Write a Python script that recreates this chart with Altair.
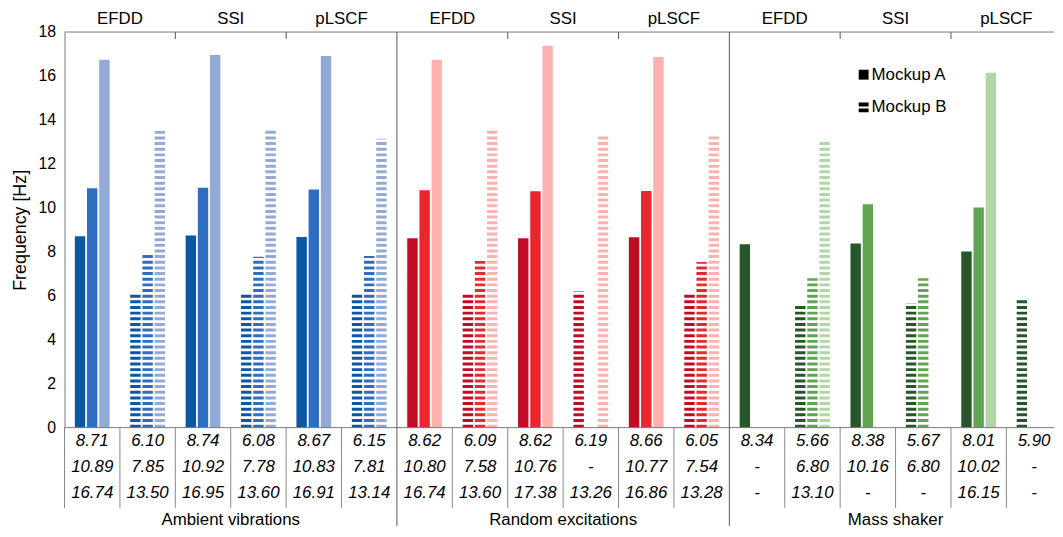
import altair as alt
import pandas as pd

# ---------------- data ----------------
groups = ["Ambient vibrations", "Random excitations", "Mass shaker"]
methods = ["EFDD", "SSI", "pLSCF"]
mockups = ["Mockup A", "Mockup B"]

# three modes per mockup (None = not identified)
ambient_efdd_a = [8.71, 10.89, 16.74]
ambient_efdd_b = [6.10, 7.85, 13.50]
ambient_ssi_a = [8.74, 10.92, 16.95]
ambient_ssi_b = [6.08, 7.78, 13.60]
ambient_plscf_a = [8.67, 10.83, 16.91]
ambient_plscf_b = [6.15, 7.81, 13.14]

random_efdd_a = [8.62, 10.80, 16.74]
random_efdd_b = [6.09, 7.58, 13.60]
random_ssi_a = [8.62, 10.76, 17.38]
random_ssi_b = [6.19, None, 13.26]
random_plscf_a = [8.66, 10.77, 16.86]
random_plscf_b = [6.05, 7.54, 13.28]

shaker_efdd_a = [8.34, None, None]
shaker_efdd_b = [5.66, 6.80, 13.10]
shaker_ssi_a = [8.38, 10.16, None]
shaker_ssi_b = [5.67, 6.80, None]
shaker_plscf_a = [8.01, 10.02, 16.15]
shaker_plscf_b = [5.90, None, None]

table = [
    [[ambient_efdd_a, ambient_efdd_b], [ambient_ssi_a, ambient_ssi_b], [ambient_plscf_a, ambient_plscf_b]],
    [[random_efdd_a, random_efdd_b], [random_ssi_a, random_ssi_b], [random_plscf_a, random_plscf_b]],
    [[shaker_efdd_a, shaker_efdd_b], [shaker_ssi_a, shaker_ssi_b], [shaker_plscf_a, shaker_plscf_b]],
]

palette = {
    "Ambient vibrations": ["#0c57a3", "#2e6dbf", "#93a9d6"],
    "Random excitations": ["#c10c26", "#e8282c", "#fdb2ae"],
    "Mass shaker": ["#27562a", "#61a552", "#b2d6a6"],
}

# ---------------- build tables ----------------
bar_rows, txt_rows = [], []
col = 0
for gi, g in enumerate(groups):
    for mi, m in enumerate(methods):
        for ki, k in enumerate(mockups):
            vals = table[gi][mi][ki]
            for mode, v in enumerate(vals):
                txt_rows.append({"col": col + 0.5, "row": mode,
                                 "txt": "-" if v is None else f"{v:.2f}"})
                if v is not None:
                    bar_rows.append({"x": col + 0.5 + (mode - 1) * 0.22,
                                     "base": 0.0, "value": v,
                                     "mock": k, "ckey": f"{g}|{mode}"})
            col += 1

bars = pd.DataFrame(bar_rows)
txt = pd.DataFrame(txt_rows)
ckeys = [f"{g}|{i}" for g in groups for i in range(3)]
crange = [palette[g][i] for g in groups for i in range(3)]

XMAX = 17.86
W, H = 998, 399
FONT = "Liberation Sans"

meth_df = pd.DataFrame([{"x": gi * 6 + mi * 2 + 1, "label": m}
                        for gi in range(3) for mi, m in enumerate(methods)])
grp_df = pd.DataFrame([{"x": gi * 6 + 3, "label": g} for gi, g in enumerate(groups)])
sep_df = pd.DataFrame({"x": [c for c in range(18) if c not in (6, 12)]})
div_df = pd.DataFrame({"x": [6, 12]})
mtick_df = pd.DataFrame({"x": [b for gi in range(3) for b in (gi * 6 + 2, gi * 6 + 4)]})
frame_df = pd.DataFrame({"x": [0.0, 0.0], "x2": [XMAX, XMAX], "y": [0.0, 18.0]})

xs = alt.Scale(domain=[0, XMAX], nice=False, zero=False)
ys = alt.Scale(domain=[0, 18], nice=False)


def X(f):
    return alt.X(f, type="quantitative", scale=xs, axis=None)


base = alt.Chart(bars)
color = alt.Color("ckey:N", scale=alt.Scale(domain=ckeys, range=crange), legend=None)

solid = base.transform_filter(alt.datum.mock == "Mockup A").mark_rule(
    strokeWidth=10.5, strokeCap="butt"
).encode(
    x=X("x"),
    y=alt.Y("base:Q", scale=ys, title="Frequency [Hz]",
            axis=alt.Axis(values=list(range(0, 19, 2)), ticks=False, grid=False,
                          domainColor="#777", labelFontSize=16, labelPadding=9,
                          titleFontSize=18, titlePadding=9, labelFont=FONT,
                          titleFont=FONT, titleFontWeight="normal",
                          labelColor="#000", titleColor="#000")),
    y2="value:Q",
    color=color,
)

striped = base.transform_filter(alt.datum.mock == "Mockup B").mark_rule(
    strokeWidth=10.5, strokeCap="butt", strokeDash=[3, 2.7]
).encode(
    x=X("x"),
    y=alt.Y("base:Q", scale=ys),
    y2="value:Q",
    color=color,
)

frame = alt.Chart(frame_df).mark_rule(color="#777", strokeWidth=1).encode(
    x=X("x"), x2="x2:Q", y=alt.Y("y:Q", scale=ys))

mticks = alt.Chart(mtick_df).mark_rule(color="#555", strokeWidth=1).encode(
    x=X("x"), y=alt.value(0), y2=alt.value(7))
dividers = alt.Chart(div_df).mark_rule(color="#555", strokeWidth=1).encode(
    x=X("x"), y=alt.value(0), y2=alt.value(498))
seps = alt.Chart(sep_df).mark_rule(color="#888", strokeWidth=1).encode(
    x=X("x"), y=alt.value(H), y2=alt.value(H + 81))

meth_txt = alt.Chart(meth_df).mark_text(fontSize=17, font=FONT, baseline="middle", color="#000").encode(
    x=X("x"), y=alt.value(-13), text="label:N")
grp_txt = alt.Chart(grp_df).mark_text(fontSize=17, font=FONT, baseline="middle", color="#000").encode(
    x=X("x"), y=alt.value(492), text="label:N")

rows_txt = []
for r in range(3):
    rows_txt.append(
        alt.Chart(txt[txt.row == r]).mark_text(fontSize=17, font=FONT, fontStyle="italic",
                                               baseline="middle", color="#000").encode(
            x=X("col"), y=alt.value(H + 14 + 26 * r), text="txt:N"))

# legend (manual)
LX = 806
one = pd.DataFrame({"a": [0]})
leg_a = alt.Chart(one).mark_rule(strokeWidth=10, strokeCap="butt", color="#000").encode(
    x=alt.value(LX), y=alt.value(38), y2=alt.value(48))
leg_b = alt.Chart(one).mark_rule(strokeWidth=10, strokeCap="butt", color="#000",
                                 strokeDash=[4, 2]).encode(
    x=alt.value(LX), y=alt.value(71), y2=alt.value(81))
leg_ta = alt.Chart(one).mark_text(fontSize=17, font=FONT, align="left", baseline="middle",
                                  color="#000", text=mockups[0]).encode(
    x=alt.value(LX + 8), y=alt.value(43))
leg_tb = alt.Chart(one).mark_text(fontSize=17, font=FONT, align="left", baseline="middle",
                                  color="#000", text=mockups[1]).encode(
    x=alt.value(LX + 8), y=alt.value(76))

chart = alt.layer(
    solid, striped, frame, mticks, dividers, seps,
    meth_txt, grp_txt, *rows_txt, leg_a, leg_b, leg_ta, leg_tb
).properties(
    width=W, height=H, padding={"left": 3, "top": 0, "right": 0, "bottom": 0}
).configure_view(stroke=None)

chart.save("out.html", embed_options={"renderer": "svg", "actions": False})
